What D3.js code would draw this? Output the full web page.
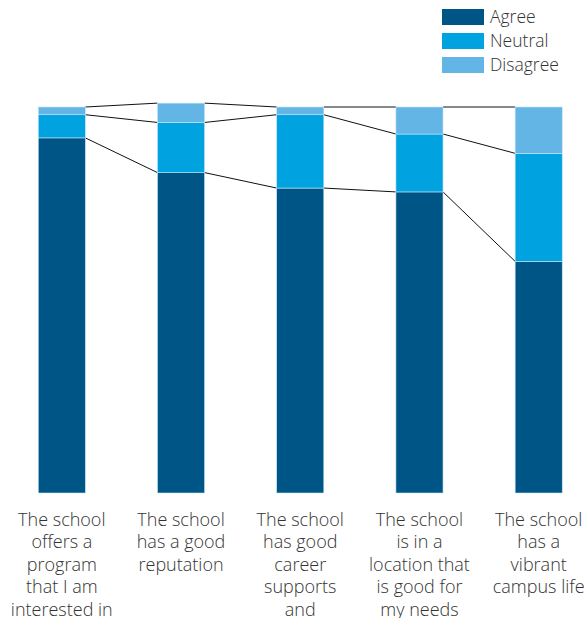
<!DOCTYPE html>
<html lang="en">
<head>
  <meta charset="UTF-8">
  <title>School choice factors</title>
  <script src="https://d3js.org/d3.v7.min.js"></script>
  <style>
    body { margin: 0; background: #fff; }
    svg text { font-family: "Open Sans", sans-serif; font-weight: 300; fill: #333; }
  </style>
</head>
<body>
  <svg width="584" height="618"></svg>

  <script>
    // categories (line breaks as in the original labels)
    const categories = [
      "The school\noffers a\nprogram\nthat I am\ninterested in",
      "The school\nhas a good\nreputation",
      "The school\nhas good\ncareer\nsupports\nand",
      "The school\nis in a\nlocation that\nis good for\nmy needs",
      "The school\nhas a\nvibrant\ncampus life"
    ];
    const seriesNames = ["Agree", "Neutral", "Disagree"];
    const agree    = [92, 83, 79, 78, 60];
    const neutral  = [6, 13, 19, 15, 28];
    const disagree = [2, 5, 2, 7, 12];
    const colors = ["#005587", "#00A3E0", "#62B5E5"];

    const rows = categories.map((c, i) => ({
      cat: c, Agree: agree[i], Neutral: neutral[i], Disagree: disagree[i]
    }));

    const svg = d3.select("svg");
    const baseY = 493, topY = 107;

    const x = d3.scaleBand()
      .domain(categories)
      .range([2.5, 598])
      .paddingInner(0.605)
      .paddingOuter(0.3);

    const y = d3.scaleLinear()
      .domain([0, 100])
      .range([baseY, topY]);

    const stack = d3.stack().keys(seriesNames)(rows);

    // connector lines between neighbouring bars (drawn first)
    const links = svg.append("g");
    stack.forEach(layer => {
      for (let i = 0; i < layer.length - 1; i++) {
        links.append("line")
          .attr("x1", x(categories[i]) + x.bandwidth())
          .attr("y1", y(layer[i][1]))
          .attr("x2", x(categories[i + 1]))
          .attr("y2", y(layer[i + 1][1]))
          .attr("stroke", "#111")
          .attr("stroke-width", 1);
      }
    });

    // stacked bars
    svg.append("g")
      .selectAll("g")
      .data(stack)
      .enter().append("g")
      .attr("fill", (d, i) => colors[i])
      .selectAll("rect")
      .data(d => d)
      .enter().append("rect")
      .attr("x", d => x(d.data.cat))
      .attr("y", d => y(d[1]))
      .attr("width", x.bandwidth())
      .attr("height", d => y(d[0]) - y(d[1]))
      .attr("stroke", "#c6e4f5")
      .attr("stroke-width", 0.6);

    // category labels
    const axis = svg.append("g")
      .attr("transform", "translate(0," + baseY + ")")
      .call(d3.axisBottom(x).tickSize(0).tickPadding(0));
    axis.select(".domain").remove();
    axis.selectAll("text")
      .attr("y", 0)
      .attr("dy", null)
      .style("font-size", "18px")
      .style("font-family", "'Open Sans', sans-serif")
      .style("font-weight", 300)
      .attr("fill", "#333")
      .each(function (d) {
        const t = d3.select(this).text("");
        d.split("\n").forEach((line, k) => {
          t.append("tspan")
            .attr("x", 0)
            .attr("y", 33 + k * 22.4)
            .text(line);
        });
      });

    // legend
    const legend = svg.append("g")
      .attr("transform", "translate(442,9)");
    seriesNames.forEach((name, i) => {
      const g = legend.append("g").attr("transform", "translate(0," + i * 24 + ")");
      g.append("rect")
        .attr("width", 42)
        .attr("height", 16)
        .attr("fill", colors[i]);
      g.append("text")
        .attr("x", 48)
        .attr("y", 8)
        .attr("dy", "0.35em")
        .style("font-size", "17.5px")
        .text(name);
    });
  </script>
</body>
</html>
